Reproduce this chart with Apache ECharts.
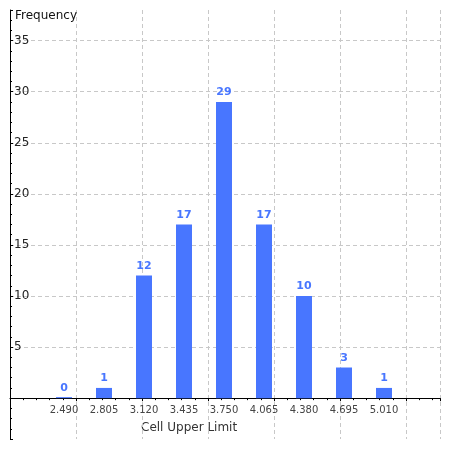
<!DOCTYPE html>
<html>
<head>
<meta charset="utf-8">
<script src="https://cdn.jsdelivr.net/npm/echarts@6/dist/echarts.min.js"></script>
<style>
  html, body { margin: 0; padding: 0; background: #fff; }
  #chart { width: 450px; height: 450px; }
</style>
</head>
<body>
<div id="chart"></div>
<script>
  // histogram data
  var cellLimits = ['2.490', '2.805', '3.120', '3.435', '3.750', '4.065', '4.380', '4.695', '5.010'];
  var frequency = [0, 1, 12, 17, 29, 17, 10, 3, 1];
  var yMin = -4;
  var yMax = 38;

  var barColor = '#4876ff';
  var gridColor = '#c8c8c8';
  var gridTop = 10;
  var gridBottom = 11;
  var plotHeight = 450 - gridTop - gridBottom;
  // lift the category labels from the grid bottom up to the zero line
  var zeroOffset = -(0 - yMin) / (yMax - yMin) * plotHeight;

  var myChart = echarts.init(document.getElementById('chart'));
  var option = {
    animation: false,
    title: {
      text: 'Frequency',
      left: 15,
      top: 10,
      padding: 0,
      textStyle: {
        fontFamily: 'DejaVu Sans',
        fontSize: 12,
        fontWeight: 'normal',
        color: '#111'
      }
    },
    graphic: [{
      type: 'text',
      left: 141,
      top: 422,
      style: {
        text: 'Cell Upper Limit',
        font: '12px "DejaVu Sans"',
        fill: '#333'
      }
    }],
    grid: [
      // frame grid: axes, ticks, gridlines
      {left: 10, right: 10, top: gridTop, bottom: gridBottom, outerBoundsMode: 'none'},
      // bars
      {left: 44, right: 46, top: gridTop, bottom: gridBottom, outerBoundsMode: 'none'}
    ],
    xAxis: [
      {
        type: 'value',
        gridIndex: 0,
        min: 0,
        max: 430 / 66,
        interval: 1,
        axisLine: {onZero: true, lineStyle: {color: '#000', width: 1}},
        axisTick: {show: true, length: 3, lineStyle: {color: '#000'}},
        minorTick: {show: true, splitNumber: 5, length: 2, lineStyle: {color: '#000'}},
        axisLabel: {show: false},
        splitLine: {
          show: true,
          showMinLine: false,
          lineStyle: {color: gridColor, type: [4, 3]}
        }
      },
      {
        type: 'category',
        gridIndex: 1,
        data: cellLimits,
        position: 'bottom',
        offset: zeroOffset,
        axisLine: {show: false, onZero: false},
        axisTick: {show: false},
        axisLabel: {
          margin: 7,
          interval: 0,
          fontFamily: 'DejaVu Sans',
          fontSize: 10,
          color: '#444'
        },
        splitLine: {show: false}
      }
    ],
    yAxis: [
      {
        type: 'value',
        gridIndex: 0,
        min: yMin,
        max: yMax,
        splitNumber: 8,
        axisLine: {show: true, lineStyle: {color: '#000', width: 1}},
        axisTick: {show: true, inside: true, length: 3, lineStyle: {color: '#000'}},
        minorTick: {show: true, splitNumber: 5, length: 2, lineStyle: {color: '#000'}},
        axisLabel: {
          inside: true,
          margin: 4,
          showMinLabel: false,
          showMaxLabel: false,
          fontFamily: 'DejaVu Sans',
          fontSize: 12,
          color: '#222',
          formatter: function (v) {
            return v > 0 ? v : '';
          }
        },
        splitLine: {
          show: true,
          showMinLine: false,
          showMaxLine: false,
          lineStyle: {color: gridColor, type: [4, 3]}
        }
      },
      {
        type: 'value',
        gridIndex: 1,
        min: yMin,
        max: yMax,
        axisLine: {show: false},
        axisTick: {show: false},
        axisLabel: {show: false},
        splitLine: {show: false}
      }
    ],
    series: [
      {
        name: 'Frequency',
        type: 'bar',
        xAxisIndex: 1,
        yAxisIndex: 1,
        barWidth: 16,
        barMinHeight: 1,
        itemStyle: {color: barColor},
        label: {
          show: true,
          position: 'top',
          distance: 4,
          fontFamily: 'DejaVu Sans',
          fontWeight: 'bold',
          fontSize: 11,
          color: barColor
        },
        data: frequency
      }
    ]
  };
  myChart.setOption(option, true);
</script>
</body>
</html>
